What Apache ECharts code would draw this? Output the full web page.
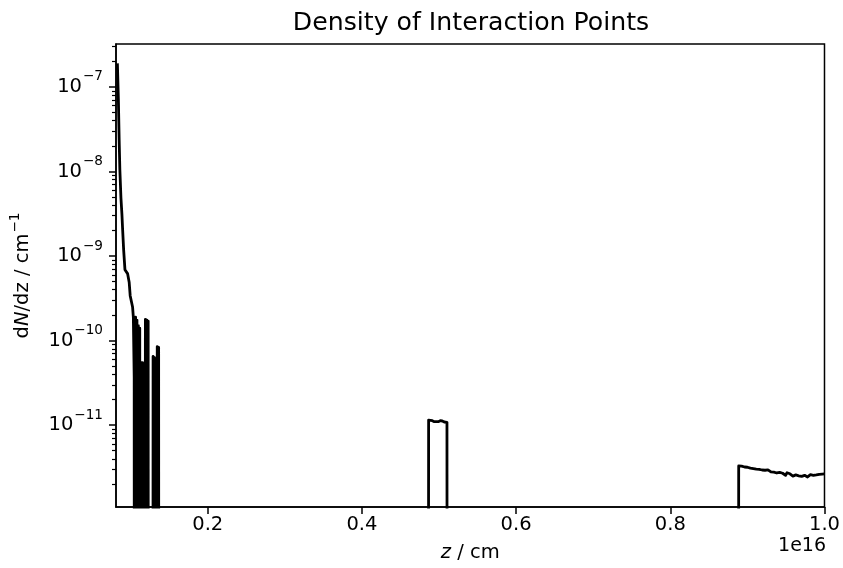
<!DOCTYPE html>
<html><head><meta charset="utf-8">
<script src="https://cdn.jsdelivr.net/npm/echarts@6/dist/echarts.min.js"></script>
<style>html,body{margin:0;padding:0;background:#fff}#c{width:843px;height:568px}</style>
</head><body><div id="c"></div>
<script>
// z positions in units of 1e16 cm
const zPos = [
  0.0828, 0.0841, 0.0851, 0.0860, 0.0874, 0.0887, 0.0896, 0.0909, 0.0926, 0.0945,
  0.0960, 0.0981, 0.0994, 0.1010, 0.1025, 0.1035, 0.1046, 0.1055, 0.1064, 0.1073,
  0.1082, 0.1091, 0.1100, 0.1109, 0.1118, 0.1127, 0.1137, 0.1146, 0.1155, 0.1164,
  0.1173, 0.1182, 0.1191, 0.1200, 0.1209, 0.1218, 0.1227, 0.1236, 0.1282, 0.1291,
  0.1300, 0.1309, 0.1318, 0.1327, 0.1336, 0.1345, 0.1354, 0.1363, 0.1373,
  0.4852, 0.4865, 0.4887, 0.4913, 0.4939, 0.4964, 0.4990, 0.5016, 0.5042, 0.5068,
  0.5103, 0.5116,
  0.8874, 0.8887, 0.8906, 0.8925, 0.8944, 0.8963, 0.8982, 0.9001, 0.9020, 0.9039,
  0.9058, 0.9077, 0.9096, 0.9115, 0.9134, 0.9153, 0.9172, 0.9191, 0.9210, 0.9229,
  0.9248, 0.9267, 0.9286, 0.9305, 0.9324, 0.9343, 0.9362, 0.9381, 0.9400, 0.9419,
  0.9438, 0.9457, 0.9476, 0.9495, 0.9514, 0.9533, 0.9552, 0.9571, 0.9590, 0.9609,
  0.9628, 0.9647, 0.9666, 0.9685, 0.9704, 0.9723, 0.9742, 0.9761, 0.9780, 0.9799,
  0.9818, 0.9837, 0.9856, 0.9875, 0.9894, 0.9913, 0.9932, 0.9951, 0.9970, 0.9989, 1.0
];
// dN/dz in cm^-1 (0 = empty bin)
const density = [
  1.9e-7, 7.0e-8, 2.37e-8, 1.05e-8, 4.9e-9, 3.1e-9, 2.06e-9, 1.19e-9, 6.9e-10, 6.6e-10,
  6.2e-10, 4.9e-10, 3.4e-10, 3.3e-10, 2.5e-10, 1.9e-10, 3.7e-11, 0, 1.9e-10, 0,
  1.75e-10, 0, 1.5e-10, 0, 1.4e-10, 0, 5.5e-11, 0, 5.5e-11, 0,
  5.3e-11, 0, 1.78e-10, 0, 1.75e-10, 0, 1.7e-10, 0, 0, 6.5e-11,
  0, 6.3e-11, 0, 6.0e-11, 0, 8.5e-11, 0, 8.3e-11, 0,
  0, 1.15e-11, 1.17e-11, 1.13e-11, 1.10e-11, 1.09e-11, 1.10e-11, 1.13e-11, 1.12e-11, 1.09e-11,
  1.08e-11, 0,
  0, 3.30e-12, 3.22e-12, 3.28e-12, 3.15e-12, 3.20e-12, 3.12e-12, 3.18e-12, 3.05e-12, 3.10e-12,
  2.98e-12, 3.06e-12, 3.12e-12, 3.02e-12, 2.92e-12, 3.00e-12, 3.05e-12, 2.95e-12, 2.85e-12, 2.93e-12,
  2.88e-12, 2.96e-12, 2.84e-12, 2.80e-12, 2.90e-12, 2.78e-12, 2.85e-12, 2.72e-12, 2.80e-12, 2.76e-12,
  2.86e-12, 2.70e-12, 2.62e-12, 2.55e-12, 2.74e-12, 2.80e-12, 2.66e-12, 2.55e-12, 2.50e-12, 2.62e-12,
  2.58e-12, 2.45e-12, 2.52e-12, 2.64e-12, 2.48e-12, 2.42e-12, 2.55e-12, 2.50e-12, 2.44e-12, 2.56e-12,
  2.60e-12, 2.48e-12, 2.55e-12, 2.52e-12, 2.58e-12, 2.50e-12, 2.62e-12, 2.70e-12, 2.64e-12, 2.60e-12, 2.65e-12
];
const xTicks = [0.2, 0.4, 0.6, 0.8, 1.0];
const xTickLabels = ['0.2', '0.4', '0.6', '0.8', '1.0'];
const yTicks = [1e-11, 1e-10, 1e-9, 1e-8, 1e-7];
const yTickExps = ['−11', '−10', '−9', '−8', '−7'];
const yMinorTicks = [
  2e-12, 3e-12, 4e-12, 5e-12, 6e-12, 7e-12, 8e-12, 9e-12,
  2e-11, 3e-11, 4e-11, 5e-11, 6e-11, 7e-11, 8e-11, 9e-11,
  2e-10, 3e-10, 4e-10, 5e-10, 6e-10, 7e-10, 8e-10, 9e-10,
  2e-9, 3e-9, 4e-9, 5e-9, 6e-9, 7e-9, 8e-9, 9e-9,
  2e-8, 3e-8, 4e-8, 5e-8, 6e-8, 7e-8, 8e-8, 9e-8,
  2e-7, 3e-7
];
const xMin = 0.081, xMax = 1.0;
const yMin = 1.077e-12, yMax = 3.22e-7;

const FONT = 'DejaVu Sans';
const FS = 19.5, FSS = 13.6;
const chart = echarts.init(document.getElementById('c'), null, {renderer: 'canvas'});
const floorVal = 1e-30; // empty bins drop below the axis
const seriesData = zPos.map((z, i) => [z, density[i] > 0 ? density[i] : floorVal]);

chart.setOption({
  animation: false,
  backgroundColor: '#fff',
  grid: {left: 115, right: 18, top: 44, bottom: 60, show: true, borderColor: '#000', borderWidth: 1.5, backgroundColor: 'transparent'},
  graphic: [
    {type: 'text', x: 471, y: 23, style: {text: 'Density of Interaction Points', fontSize: 25.2, fontFamily: FONT, fill: '#000', align: 'center', verticalAlign: 'middle'}},
    {type: 'text', x: 826, y: 546, style: {text: '1e16', fontSize: 19, fontFamily: FONT, fill: '#000', align: 'right', verticalAlign: 'middle'}}
  ],
  xAxis: {
    type: 'value', min: xMin, max: xMax,
    name: '{i|z}{r| / cm}', nameLocation: 'middle', nameGap: 36,
    nameTextStyle: {rich: {i: {fontSize: FS, fontFamily: FONT, fontStyle: 'italic', color: '#000'}, r: {fontSize: FS, fontFamily: FONT, color: '#000'}}},
    axisLine: {show: true, lineStyle: {color: '#000', width: 1.5}},
    axisTick: {show: true, length: 7, lineStyle: {color: '#000', width: 1.5}, customValues: xTicks},
    axisLabel: {customValues: xTicks, margin: 8, fontSize: FS, fontFamily: FONT, color: '#000',
      formatter: (v) => { const i = xTicks.findIndex(t => Math.abs(t - v) < 1e-9); return i >= 0 ? xTickLabels[i] : ''; }},
    splitLine: {show: false}
  },
  yAxis: [
    {
      type: 'log', logBase: 10, min: yMin, max: yMax,
      name: '{r|d}{i|N}{r|/dz / cm}{s|−1}', nameLocation: 'middle', nameGap: 78, nameRotate: 90,
      nameTextStyle: {rich: {
        r: {fontSize: FS, fontFamily: FONT, color: '#000', lineHeight: 30, verticalAlign: 'middle'},
        i: {fontSize: FS, fontFamily: FONT, fontStyle: 'italic', color: '#000', lineHeight: 30, verticalAlign: 'middle'},
        s: {fontSize: FSS, fontFamily: FONT, color: '#000', lineHeight: 14, verticalAlign: 'top', padding: [0, 0, 0, 1]}
      }},
      axisLine: {show: true, lineStyle: {color: '#000', width: 1.5}},
      axisTick: {show: true, length: 7, lineStyle: {color: '#000', width: 1.5}, customValues: yTicks},
      axisLabel: {customValues: yTicks, margin: 13, color: '#000',
        formatter: (v) => { const e = Math.round(Math.log10(v)); const i = yTicks.findIndex(t => Math.round(Math.log10(t)) === e); return '{b|10}{s|' + yTickExps[i] + '}'; },
        rich: {
          b: {fontSize: FS, fontFamily: FONT, color: '#000', lineHeight: 34, verticalAlign: 'middle'},
          s: {fontSize: FSS, fontFamily: FONT, color: '#000', lineHeight: 14, verticalAlign: 'top', padding: [0, 0, 0, 1]}
        }},
      splitLine: {show: false}
    },
    {
      type: 'log', logBase: 10, min: yMin, max: yMax, position: 'left',
      axisLine: {show: false},
      axisTick: {show: true, length: 4, lineStyle: {color: '#000', width: 1.2}, customValues: yMinorTicks},
      axisLabel: {show: false},
      splitLine: {show: false}
    }
  ],
  series: [{
    type: 'line', data: seriesData, xAxisIndex: 0, yAxisIndex: 0,
    showSymbol: false, symbol: 'none', clip: true,
    lineStyle: {color: '#000', width: 2.8, join: 'round'}
  }]
});
</script></body></html>
